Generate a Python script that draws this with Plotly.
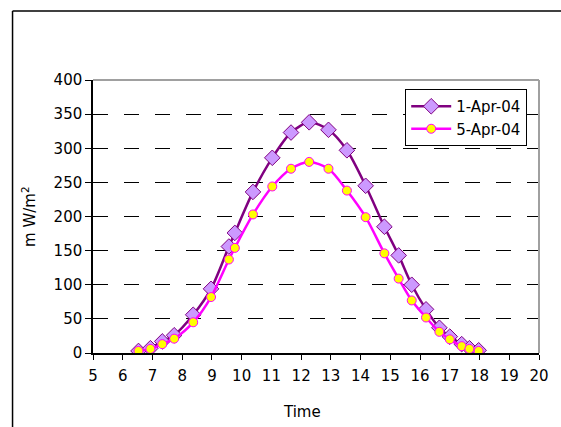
import plotly.graph_objects as go

# Data
time_apr1 = [6.53, 6.93, 7.33, 7.73, 8.37, 8.97, 9.57, 9.77, 10.38, 11.03, 11.66, 12.27,
             12.92, 13.54, 14.17, 14.8, 15.28, 15.72, 16.2, 16.65, 17.0, 17.4, 17.66, 17.97]
apr1_vals = [3, 7, 17, 26, 56, 94, 156, 176, 236, 286, 323, 338,
             327, 297, 245, 185, 143, 100, 64, 37, 24, 13, 7, 4]

time_apr5 = [6.53, 6.93, 7.33, 7.73, 8.37, 8.97, 9.57, 9.77, 10.38, 11.03, 11.66, 12.27,
             12.92, 13.54, 14.17, 14.8, 15.28, 15.72, 16.2, 16.65, 17.0, 17.4, 17.66, 17.97]
apr5_vals = [3, 6, 13, 21, 45, 82, 137, 154, 203, 244, 270, 280,
             270, 238, 199, 146, 109, 77, 52, 31, 20, 10, 6, 3]

series_names = ["1-Apr-04", "5-Apr-04"]
x_ticks = list(range(5, 21))
y_ticks = list(range(0, 401, 50))

FONT = "DejaVu Sans"

fig = go.Figure()
fig.add_trace(go.Scatter(
    x=time_apr1, y=apr1_vals, name=series_names[0], mode="lines+markers",
    line=dict(color="#800080", width=2.5, shape="spline", smoothing=0.8),
    marker=dict(symbol="diamond", size=12, color="#CC99FF",
                line=dict(color="#800080", width=1)),
))
fig.add_trace(go.Scatter(
    x=time_apr5, y=apr5_vals, name=series_names[1], mode="lines+markers",
    line=dict(color="#FF00FF", width=2.5, shape="spline", smoothing=0.8),
    marker=dict(symbol="circle", size=9, color="#FFFF00",
                line=dict(color="#FF00FF", width=1)),
))

fig.update_layout(
    width=561, height=427,
    margin=dict(l=93, r=19, t=80, b=74),
    paper_bgcolor="white", plot_bgcolor="white",
    font=dict(family=FONT, size=15, color="black"),
    showlegend=True,
    legend=dict(x=0.70, y=0.967, xanchor="left", yanchor="top",
                bgcolor="white", bordercolor="black", borderwidth=1,
                font=dict(family=FONT, size=15, color="black"),
                tracegroupgap=2, itemwidth=40),
    xaxis=dict(range=[5, 20], tickvals=x_ticks, showgrid=False,
               showline=True, linecolor="black", linewidth=1.5,
               ticks="outside", ticklen=5, tickcolor="black", zeroline=False,
               ticklabelstandoff=3,
               tickfont=dict(family=FONT, size=15, color="black")),
    yaxis=dict(range=[0, 400], tickvals=y_ticks, showgrid=True,
               gridcolor="black", gridwidth=1, griddash="15px,16px",
               showline=True, linecolor="black", linewidth=1.5,
               ticks="outside", ticklen=6, tickcolor="black", zeroline=False,
               tickfont=dict(family=FONT, size=15, color="black")),
    shapes=[
        # plot-area top and right borders (gray)
        dict(type="line", xref="paper", yref="paper", x0=0, x1=1, y0=1, y1=1,
             line=dict(color="#A0A0A0", width=2), layer="above"),
        dict(type="line", xref="paper", yref="paper", x0=1, x1=1, y0=0, y1=1,
             line=dict(color="#A0A0A0", width=2), layer="above"),
        # outer chart frame (left and top)
        dict(type="line", xref="paper", yref="paper", x0=-0.1804, x1=-0.1804,
             y0=-0.35, y1=1.2527, line=dict(color="black", width=1.5)),
        dict(type="line", xref="paper", yref="paper", x0=-0.1804, x1=1.1,
             y0=1.2527, y1=1.2527, line=dict(color="black", width=1.5)),
    ],
    annotations=[
        dict(text="m W/m<sup>2</sup>", xref="paper", yref="paper",
             x=(28 - 93) / 449, y=0.5, textangle=-90, showarrow=False,
             xanchor="center", yanchor="middle",
             font=dict(family=FONT, size=15, color="black")),
        dict(text="Time", xref="paper", yref="paper",
             x=(303 - 93) / 449, y=(353 - 412) / 273, showarrow=False,
             xanchor="center", yanchor="middle",
             font=dict(family=FONT, size=15, color="black")),
    ],
)

fig.write_html("out.html")
